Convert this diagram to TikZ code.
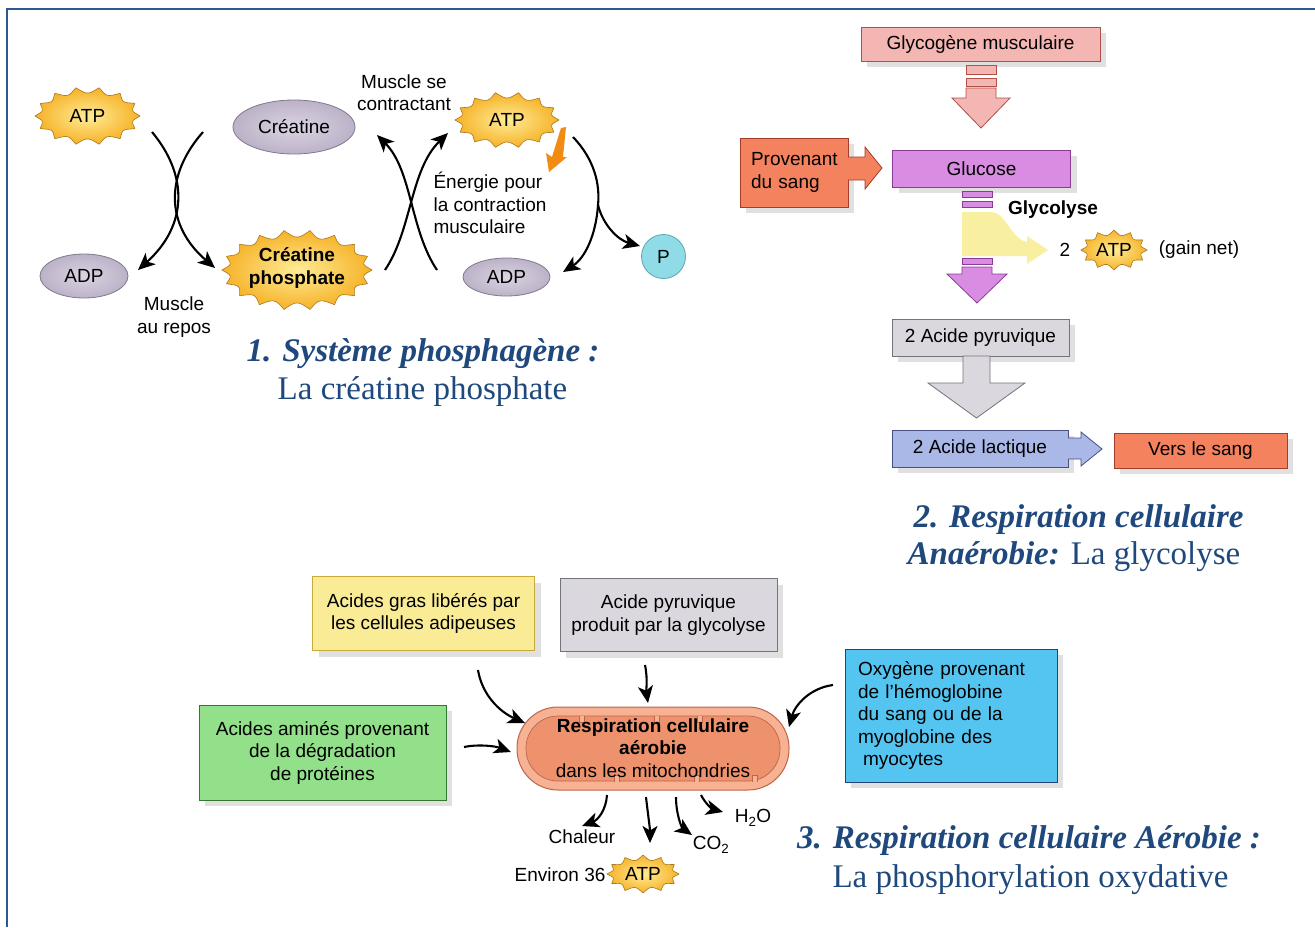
\documentclass[tikz,border=0pt]{standalone}
\usepackage{fontspec}
\setmainfont{Liberation Serif}
\setsansfont{Liberation Sans}
\usetikzlibrary{arrows.meta,shadows,shapes.geometric,calc}
\definecolor{titleblue}{RGB}{31,73,125}
\definecolor{framecol}{RGB}{47,85,151}
\definecolor{burstin}{RGB}{255,236,150}
\definecolor{burstout}{RGB}{246,178,40}
\definecolor{burstline}{RGB}{170,120,30}
\definecolor{ovalin}{RGB}{218,212,226}
\definecolor{ovalout}{RGB}{188,178,200}
\definecolor{ovalline}{RGB}{130,120,140}
\definecolor{pfill}{RGB}{143,220,232}
\definecolor{pline}{RGB}{95,165,175}
\definecolor{pinkfill}{RGB}{244,182,178}
\definecolor{pinkline}{RGB}{176,80,70}
\definecolor{salmfill}{RGB}{244,130,94}
\definecolor{salmline}{RGB}{165,60,40}
\definecolor{violfill}{RGB}{216,140,226}
\definecolor{violline}{RGB}{140,60,150}
\definecolor{yelarr}{RGB}{249,239,160}
\definecolor{grayfill}{RGB}{218,216,222}
\definecolor{grayline}{RGB}{115,115,122}
\definecolor{bluefill}{RGB}{170,184,232}
\definecolor{blueline}{RGB}{70,80,130}
\definecolor{gasfill}{RGB}{250,236,150}
\definecolor{gasline}{RGB}{200,170,60}
\definecolor{greenfill}{RGB}{146,224,138}
\definecolor{greenline}{RGB}{50,120,50}
\definecolor{skyfill}{RGB}{84,196,240}
\definecolor{skyline}{RGB}{30,70,120}
\definecolor{mitoout}{RGB}{246,178,146}
\definecolor{mitoin}{RGB}{238,146,110}
\definecolor{mitoline}{RGB}{190,100,75}
\definecolor{boltcol}{RGB}{240,140,20}
\newcommand\burstshape[6]{%
  \shadedraw[burst, shift={(#1,#2)}] plot[domain=0:360, samples=721, variable=\t]
   ({(#3-#6*abs(sin(#5*\t/2)))*cos(\t)}, {(#4-#6*abs(sin(#5*\t/2)))*sin(\t)}) -- cycle;}
\tikzset{
  sf/.style={font=\sffamily\fontsize{19}{22.5}\selectfont},
  sfb/.style={font=\sffamily\bfseries\fontsize{19}{22.5}\selectfont},
  box/.style={sf, draw, line width=1pt, inner sep=0pt, align=center,
    drop shadow={shadow xshift=6pt, shadow yshift=-6pt, fill=black!12, opacity=1}},
  burst/.style={draw=burstline, line width=0.6pt, inner color=burstin, outer color=burstout},
  oval/.style={ellipse, sf, draw=ovalline, line width=0.8pt, inner color=ovalin, outer color=ovalout, inner sep=0pt},
  arr/.style={line width=2.1pt, -{Stealth[length=17pt, width=15pt, inset=4.5pt]}},
  blockpink/.style={fill=pinkfill, draw=pinkline, line width=0.8pt},
  blockviol/.style={fill=violfill, draw=violline, line width=0.8pt},
  blockgray/.style={fill=grayfill, draw=grayline, line width=0.8pt},
  ttl/.style={font=\bfseries\itshape\fontsize{33}{38}\selectfont, text=titleblue, inner sep=0pt},
  sub/.style={font=\fontsize{33}{38}\selectfont, text=titleblue, inner sep=0pt},
}
\begin{document}
\begin{tikzpicture}[x=1pt,y=-1pt]
\useasboundingbox (0,0) rectangle (1315,927);
\fill[white] (0,0) rectangle (1315,927);
\draw[framecol, line width=2.5pt] (7,927) -- (7,9) -- (1315,9);

% ===== Section 1 : phosphagene =====
\burstshape{87.5}{116}{52.5}{29}{14}{6}
\burstshape{507}{120}{52}{28}{14}{6}
\burstshape{297}{270}{75}{40}{18}{7}
\node[sf] (atpA) at (87.5,116) {ATP};
\node[sf] (atpB) at (507,120) {ATP};
\node[sfb, align=center] (crp) at (297,268) {Créatine\\phosphate};
\node[oval, minimum width=122pt, minimum height=54pt] (crea) at (294,127) {Créatine};
\node[oval, minimum width=88pt, minimum height=44pt] (adpA) at (84,276) {ADP};
\node[oval, minimum width=87pt, minimum height=38pt] (adpB) at (506.5,277) {ADP};
\node[circle, sf, draw=pline, fill=pfill, line width=0.8pt, minimum size=44pt, inner sep=0pt] (pp) at (663.5,256.5) {P};
\node[sf, align=center] (repos) at (174,317) {Muscle\\au repos};
\node[sf, align=center] (contr) at (404,92.5) {Muscle se\\contractant};
\node[sf, align=left, anchor=west] (energ) at (430,203) {Énergie pour\\la contraction\\musculaire};
\fill[boltcol] (566,127) -- (563,157) -- (567,157) -- (549,172) -- (546,153) -- (552,157) -- (561,128) -- cycle;

\coordinate (a1s) at (152,132); \coordinate (a1e) at (138,270);
\coordinate (a2s) at (203,132); \coordinate (a2e) at (215,268);
\coordinate (b1s) at (385,270); \coordinate (b1e) at (448,133);
\coordinate (b2s) at (437,270); \coordinate (b2e) at (377,135);
\coordinate (c0) at (573,137); \coordinate (csplit) at (598,205);
\coordinate (c1e) at (563,272); \coordinate (c2e) at (640,246);
\draw[arr] (a1s) .. controls (188,175) and (188,225) .. (a1e);
\draw[arr] (a2s) .. controls (165,175) and (165,225) .. (a2e);
\draw[arr] (b1s) .. controls (412,230) and (410,170) .. (b1e);
\draw[arr] (b2s) .. controls (410,230) and (412,170) .. (b2e);
\draw[line width=2.1pt] (c0) .. controls (595,160) and (600,185) .. (csplit);
\draw[arr] (csplit) .. controls (596,235) and (585,258) .. (c1e);
\draw[arr] (csplit) .. controls (603,225) and (618,240) .. (c2e);

\node[ttl] (t1a) at (423,354) {1. Système phosphagène :};
\node[sub] (t1b) at (422.5,392) {La créatine phosphate};

% ===== Section 2 : glycolyse =====
\node[box, fill=pinkfill, draw=pinkline, minimum width=239pt, minimum height=34pt] (glyco) at (980.5,44) {Glycogène musculaire};
\draw[blockpink] (966,65) rectangle (996,74);
\draw[blockpink] (966,78) rectangle (996,86);
\draw[blockpink] (966,88) -- (996,88) -- (996,98) -- (1010,98) -- (981,128) -- (952,98) -- (966,98) -- cycle;

\node[box, fill=salmfill, draw=salmline, minimum height=69pt, text width=86pt, inner xsep=11pt, align=left] (prov) at (794,172.5) {Provenant\\du sang};
\draw[fill=salmfill, draw=salmline, line width=0.8pt] (848,157) -- (865,157) -- (865,147) -- (882,168) -- (865,189) -- (865,180) -- (848,180);
\node[box, fill=violfill, draw=violline, minimum width=178pt, minimum height=37pt] (gluc) at (981.5,168.5) {Glucose};
\draw[blockviol] (962,191) rectangle (992,197);
\draw[blockviol] (962,201) rectangle (992,207);
\fill[yelarr] (962,212) -- (992,212) .. controls (1006,213) and (1012,240) .. (1027,242) -- (1027,236) -- (1048,250) -- (1027,264) -- (1027,256) -- (962,256) -- cycle;
\node[sfb] (glyc) at (1053,210) {Glycolyse};
\draw[blockviol] (962,258) rectangle (992,264);
\draw[blockviol] (962,267) -- (992,267) -- (992,274) -- (1007,274) -- (977,303) -- (947,274) -- (962,274) -- cycle;
\node[sf] (two) at (1065,250) {2};
\burstshape{1114}{250}{33}{20}{12}{5}
\node[sf] (atpC) at (1114,250) {ATP};
\node[sf] (gain) at (1199,250) {(gain net)};

\node[box, fill=grayfill, draw=grayline, minimum width=177pt, minimum height=37pt] (pyr2) at (980.5,337.5) {2 Acide pyruvique};
\draw[blockgray] (963,356) -- (990,356) -- (990,383) -- (1025,383) -- (976.5,418) -- (928,383) -- (963,383) -- cycle;
\node[box, fill=bluefill, draw=blueline, minimum width=176pt, minimum height=37pt] (lact) at (980,448.5) {2 Acide lactique};
\draw[fill=bluefill, draw=blueline, line width=0.8pt] (1068,438) -- (1081,438) -- (1081,432) -- (1102,449) -- (1081,466) -- (1081,459) -- (1068,459);
\node[box, fill=salmfill, draw=salmline, minimum width=173pt, minimum height=35pt] (sang) at (1200.5,450.5) {Vers le sang};

\node[ttl] (t2a) at (1078.5,520) {2. Respiration cellulaire};
\node[sub] (t2b) at (1074,557) {\bfseries\itshape Anaérobie:\mdseries\upshape{} La glycolyse};

% ===== Section 3 : aerobie =====
\node[box, fill=gasfill, draw=gasline, minimum width=222pt, minimum height=74pt] (gras) at (423.5,613.5) {Acides gras libérés par\\les cellules adipeuses};
\node[box, fill=grayfill, draw=grayline, minimum width=217pt, minimum height=73pt] (pyr3) at (668.5,615) {Acide pyruvique\\produit par la glycolyse};
\node[box, fill=greenfill, draw=greenline, minimum width=247pt, minimum height=95pt] (amin) at (322.5,752.5) {Acides aminés provenant\\de la dégradation\\de protéines};
\node[box, fill=skyfill, draw=skyline, minimum height=133pt, text width=186pt, inner xsep=13pt, align=left] (oxy) at (951,715.5) {Oxygène provenant\\de l’hémoglobine\\du sang ou de la\\myoglobine des\\\hspace*{5pt}myocytes};

\draw[fill=mitoout, draw=mitoline, line width=1pt, rounded corners=41pt] (517,707) rectangle (789,790);
\draw[fill=mitoin, draw=mitoline, line width=0.7pt, rounded corners=32pt] (526,716) rectangle (780,781);
\foreach \xx in {582,657,700} {\draw[fill=mitoout, draw=mitoline, line width=0.6pt] (\xx-2.5,715.5) -- (\xx-2.5,722) -- (\xx+2.5,722) -- (\xx+2.5,715.5);}
\foreach \xx in {617,697,755} {\draw[fill=mitoout, draw=mitoline, line width=0.6pt] (\xx-2.5,781.5) -- (\xx-2.5,775) -- (\xx+2.5,775) -- (\xx+2.5,781.5);}
\node[sf, align=center, minimum width=272pt, minimum height=83pt, inner sep=0pt] (mito) at (653,748) {\bfseries Respiration cellulaire\\\bfseries aérobie\\dans les mitochondries};

\node[sf] (chal) at (582,837) {Chaleur};
\node[sf] (co2) at (711,845) {CO\textsubscript{2}};
\node[sf] (h2o) at (753,818) {H\textsubscript{2}O};
\node[sf] (env) at (560,875) {Environ 36};
\burstshape{643}{874}{36}{19}{12}{5}
\node[sf] (atpD) at (643,874) {ATP};

\coordinate (g1s) at (478,670); \coordinate (g1e) at (525,723);
\coordinate (p1s) at (645,665); \coordinate (p1e) at (648,703);
\coordinate (m1s) at (464,747); \coordinate (m1e) at (511,752);
\coordinate (o1s) at (833,685); \coordinate (o1e) at (789,727);
\coordinate (h1s) at (607,795); \coordinate (h1e) at (582,826);
\coordinate (t1s) at (646,797); \coordinate (t1e) at (650,843);
\coordinate (co1s) at (676,797); \coordinate (co1e) at (692,835);
\coordinate (w1s) at (701,795); \coordinate (w1e) at (723,812);
\draw[arr] (g1s) .. controls (482,695) and (500,712) .. (g1e);
\draw[arr] (p1s) .. controls (648,680) and (646,690) .. (p1e);
\draw[arr] (m1s) .. controls (478,744) and (495,746) .. (m1e);
\draw[arr] (o1s) .. controls (810,688) and (795,705) .. (o1e);
\draw[arr] (h1s) .. controls (606,810) and (598,820) .. (h1e);
\draw[arr] (t1s) .. controls (648,815) and (650,828) .. (t1e);
\draw[arr] (co1s) .. controls (676,815) and (682,828) .. (co1e);
\draw[arr] (w1s) .. controls (705,803) and (712,809) .. (w1e);

\node[ttl] (t3a) at (1029,841) {3. Respiration cellulaire Aérobie :};
\node[sub] (t3b) at (1030.5,880) {La phosphorylation oxydative};
\end{tikzpicture}
\end{document}
